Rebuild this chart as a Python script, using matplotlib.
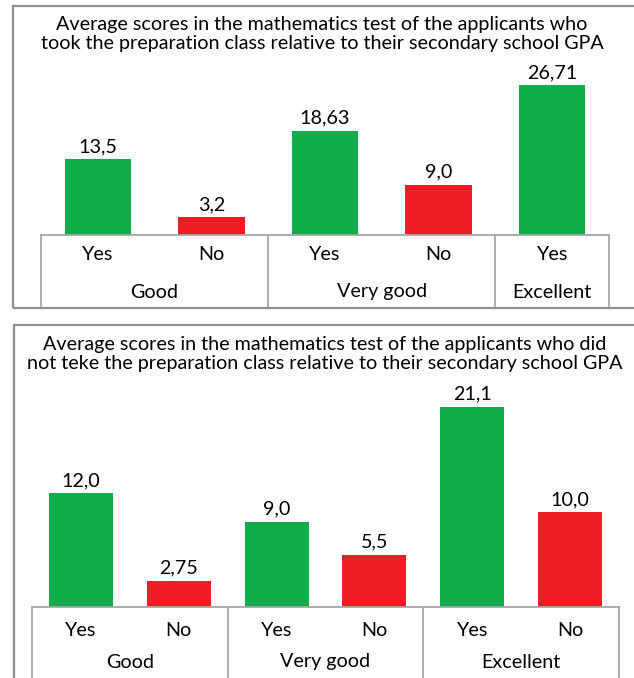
import matplotlib.pyplot as plt
from matplotlib.patches import Rectangle

plt.rcParams['font.family'] = ['Lato', 'DejaVu Sans']

W, H = 634, 678

top_title = ("Average scores in the mathematics test of the applicants who\n"
             "took the preparation class relative to their secondary school GPA")
top_answers = ["Yes", "No", "Yes", "No", "Yes"]
top_values = [13.5, 3.2, 18.63, 9.0, 26.71]
top_texts = ["13,5", "3,2", "18,63", "9,0", "26,71"]
top_groups = ["Good", "Very good", "Excellent"]
top_group_sizes = [2, 2, 1]

bot_title = ("Average scores in the mathematics test of the applicants who did\n"
             "not teke the preparation class relative to their secondary school GPA")
bot_answers = ["Yes", "No", "Yes", "No", "Yes", "No"]
bot_values = [12.0, 2.75, 9.0, 5.5, 21.1, 10.0]
bot_texts = ["12,0", "2,75", "9,0", "5,5", "21,1", "10,0"]
bot_groups = ["Good", "Very good", "Excellent"]
bot_group_sizes = [2, 2, 2]

GREEN = "#12ad4b"
RED = "#ee1c25"
LINE = "#a6a6a6"
BORDER = "#8f8f8f"
FS = 14.2


def px_axes(fig, left, right, top, bottom):
    return fig.add_axes([left / W, 1 - bottom / H, (right - left) / W, (bottom - top) / H])


def border(fig, left, right, top, bottom):
    fig.patches.append(Rectangle((left / W, 1 - bottom / H), (right - left) / W, (bottom - top) / H,
                                 transform=fig.transFigure, fill=False, edgecolor=BORDER,
                                 linewidth=1.6, clip_on=False))


def panel(ax, answers, values, texts, groups, sizes, base_px, bottom_px, top_px, scale,
          ans_off, grp_off, bw):
    n = len(values)
    xs = list(range(n))
    colors = [GREEN if a == "Yes" else RED for a in answers]
    ax.bar(xs, values, width=bw, color=colors, zorder=2)
    ax.set_xlim(-0.5, n - 0.5)
    ax.set_ylim(-(bottom_px - base_px) / scale, (base_px - top_px) / scale)
    ax.axis("off")
    ymin = ax.get_ylim()[0]
    ax.plot([-0.5, n - 0.5], [0, 0], color=LINE, lw=1.3, zorder=3, clip_on=False)
    edge = -0.5
    bounds = [edge]
    for s in sizes:
        edge += s
        bounds.append(edge)
    for b in bounds:
        ax.plot([b, b], [0, ymin], color=LINE, lw=1.3, zorder=3, clip_on=False)
    for x, v, t, a in zip(xs, values, texts, answers):
        ax.annotate(t, (x, v), xytext=(0, 9), textcoords="offset points",
                    ha="center", va="center", fontsize=FS, annotation_clip=False)
        ax.annotate(a, (x, 0), xytext=(0, -ans_off * 0.72), textcoords="offset points",
                    ha="center", va="center", fontsize=FS, annotation_clip=False)
    for g, lo, hi in zip(groups, bounds[:-1], bounds[1:]):
        ax.annotate(g, ((lo + hi) / 2, 0), xytext=(0, -grp_off * 0.72), textcoords="offset points",
                    ha="center", va="center", fontsize=FS, annotation_clip=False)


fig = plt.figure(figsize=(W / 100, H / 100), dpi=100)

# top panel
border(fig, 13, 645, 6, 308)
fig.text(322 / W, 1 - 34 / H, top_title, ha="center", va="center", fontsize=FS,
         linespacing=1.15)
ax1 = px_axes(fig, 41, 609, 70, 308)
panel(ax1, top_answers, top_values, top_texts, top_groups, top_group_sizes,
      235, 308, 70, 5.6, 19, 57, 0.585)

# bottom panel
border(fig, 14, 645, 325, 690)
fig.text(325 / W, 1 - 354 / H, bot_title, ha="center", va="center", fontsize=FS,
         linespacing=1.15)
ax2 = px_axes(fig, 32, 619, 390, 678)
panel(ax2, bot_answers, bot_values, bot_texts, bot_groups, bot_group_sizes,
      607, 678, 390, 9.5, 23, 55, 0.655)

fig.savefig("out.png", dpi=100)
